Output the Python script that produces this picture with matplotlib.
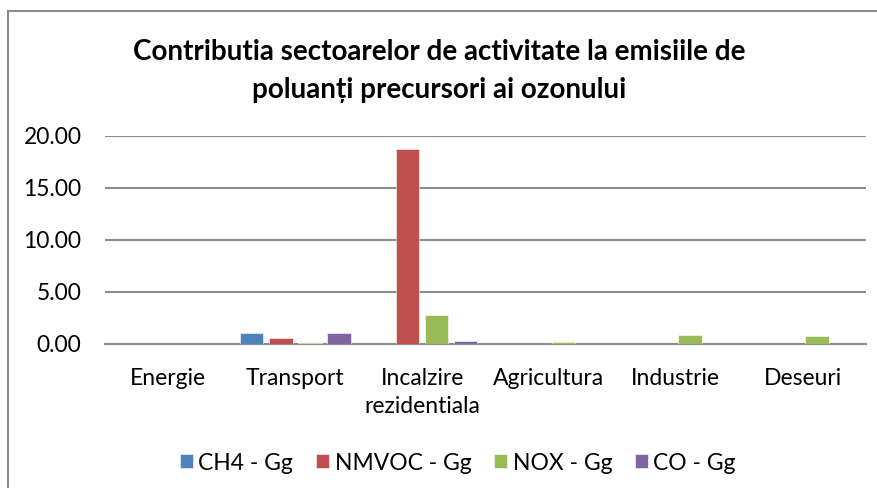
import matplotlib
matplotlib.use("Agg")
import matplotlib.pyplot as plt
from matplotlib.lines import Line2D
import numpy as np

categories = ["Energie", "Transport", "Incalzire\nrezidentiala", "Agricultura", "Industrie", "Deseuri"]
series_names = ["CH4 - Gg", "NMVOC - Gg", "NOX - Gg", "CO - Gg"]
ch4 = [0.0, 1.05, 0.0, 0.0, 0.0, 0.0]
nmvoc = [0.0, 0.57, 18.75, 0.0, 0.0, 0.0]
nox = [0.0, 0.05, 2.83, 0.17, 0.83, 0.75]
co = [0.0, 1.05, 0.33, 0.0, 0.0, 0.0]
yticks = [0, 5, 10, 15, 20]

colors = ["#4F81BD", "#C0504D", "#9BBB59", "#8064A2"]
grid_color = "#8C8C8C"

plt.rcParams["font.family"] = ["Lato", "DejaVu Sans"]

W, H = 878, 488
fig = plt.figure(figsize=(W / 100, H / 100), dpi=100)
ax = fig.add_axes([105 / W, 1 - 344 / H, (866 - 105) / W, (344 - 135.7) / H])

x = np.arange(len(categories))
width = 0.186
pitch = 0.229
for i, (vals, name) in enumerate(zip([ch4, nmvoc, nox, co], series_names)):
    ax.bar(x + (i - 1.5) * pitch, vals, width, color=colors[i], label=name,
           edgecolor="white", linewidth=0.4, zorder=3)

ax.set_xlim(-0.5, len(categories) - 0.5)
ax.set_ylim(0, 20)
ax.set_yticks(yticks)
ax.set_yticklabels([f"{v:.2f}" for v in yticks], fontsize=16.5)
ax.yaxis.grid(True, color=grid_color, linewidth=1.5, zorder=0)
ax.set_xticks(x)
ax.set_xticklabels(categories, fontsize=16.5, linespacing=1.45)
ax.tick_params(axis="both", length=0)
ax.tick_params(axis="y", pad=17)
ax.tick_params(axis="x", pad=17)
for side in ["top", "right", "left"]:
    ax.spines[side].set_visible(False)
ax.spines["bottom"].set_color(grid_color)
ax.spines["bottom"].set_linewidth(1.5)

fig.text(439 / W, 1 - 52 / H, "Contributia sectoarelor de activitate la emisiile de",
         ha="center", va="center", fontsize=20, fontweight="bold")
fig.text(439 / W, 1 - 90 / H, "poluanți precursori ai ozonului",
         ha="center", va="center", fontsize=20, fontweight="bold")

fig.legend(loc="center", bbox_to_anchor=(458 / W, 1 - 463 / H), ncol=4, frameon=False,
           fontsize=16.5, handlelength=0.55, handleheight=0.55, handletextpad=0.25,
           columnspacing=1.0)

# chart frame (left and top edges visible)
fig.add_artist(Line2D([8 / W, 8 / W], [0, 1 - 11 / H], color=grid_color, linewidth=1.5))
fig.add_artist(Line2D([8 / W, 1], [1 - 11 / H, 1 - 11 / H], color=grid_color, linewidth=1.5))

fig.savefig("out.png", dpi=100)
